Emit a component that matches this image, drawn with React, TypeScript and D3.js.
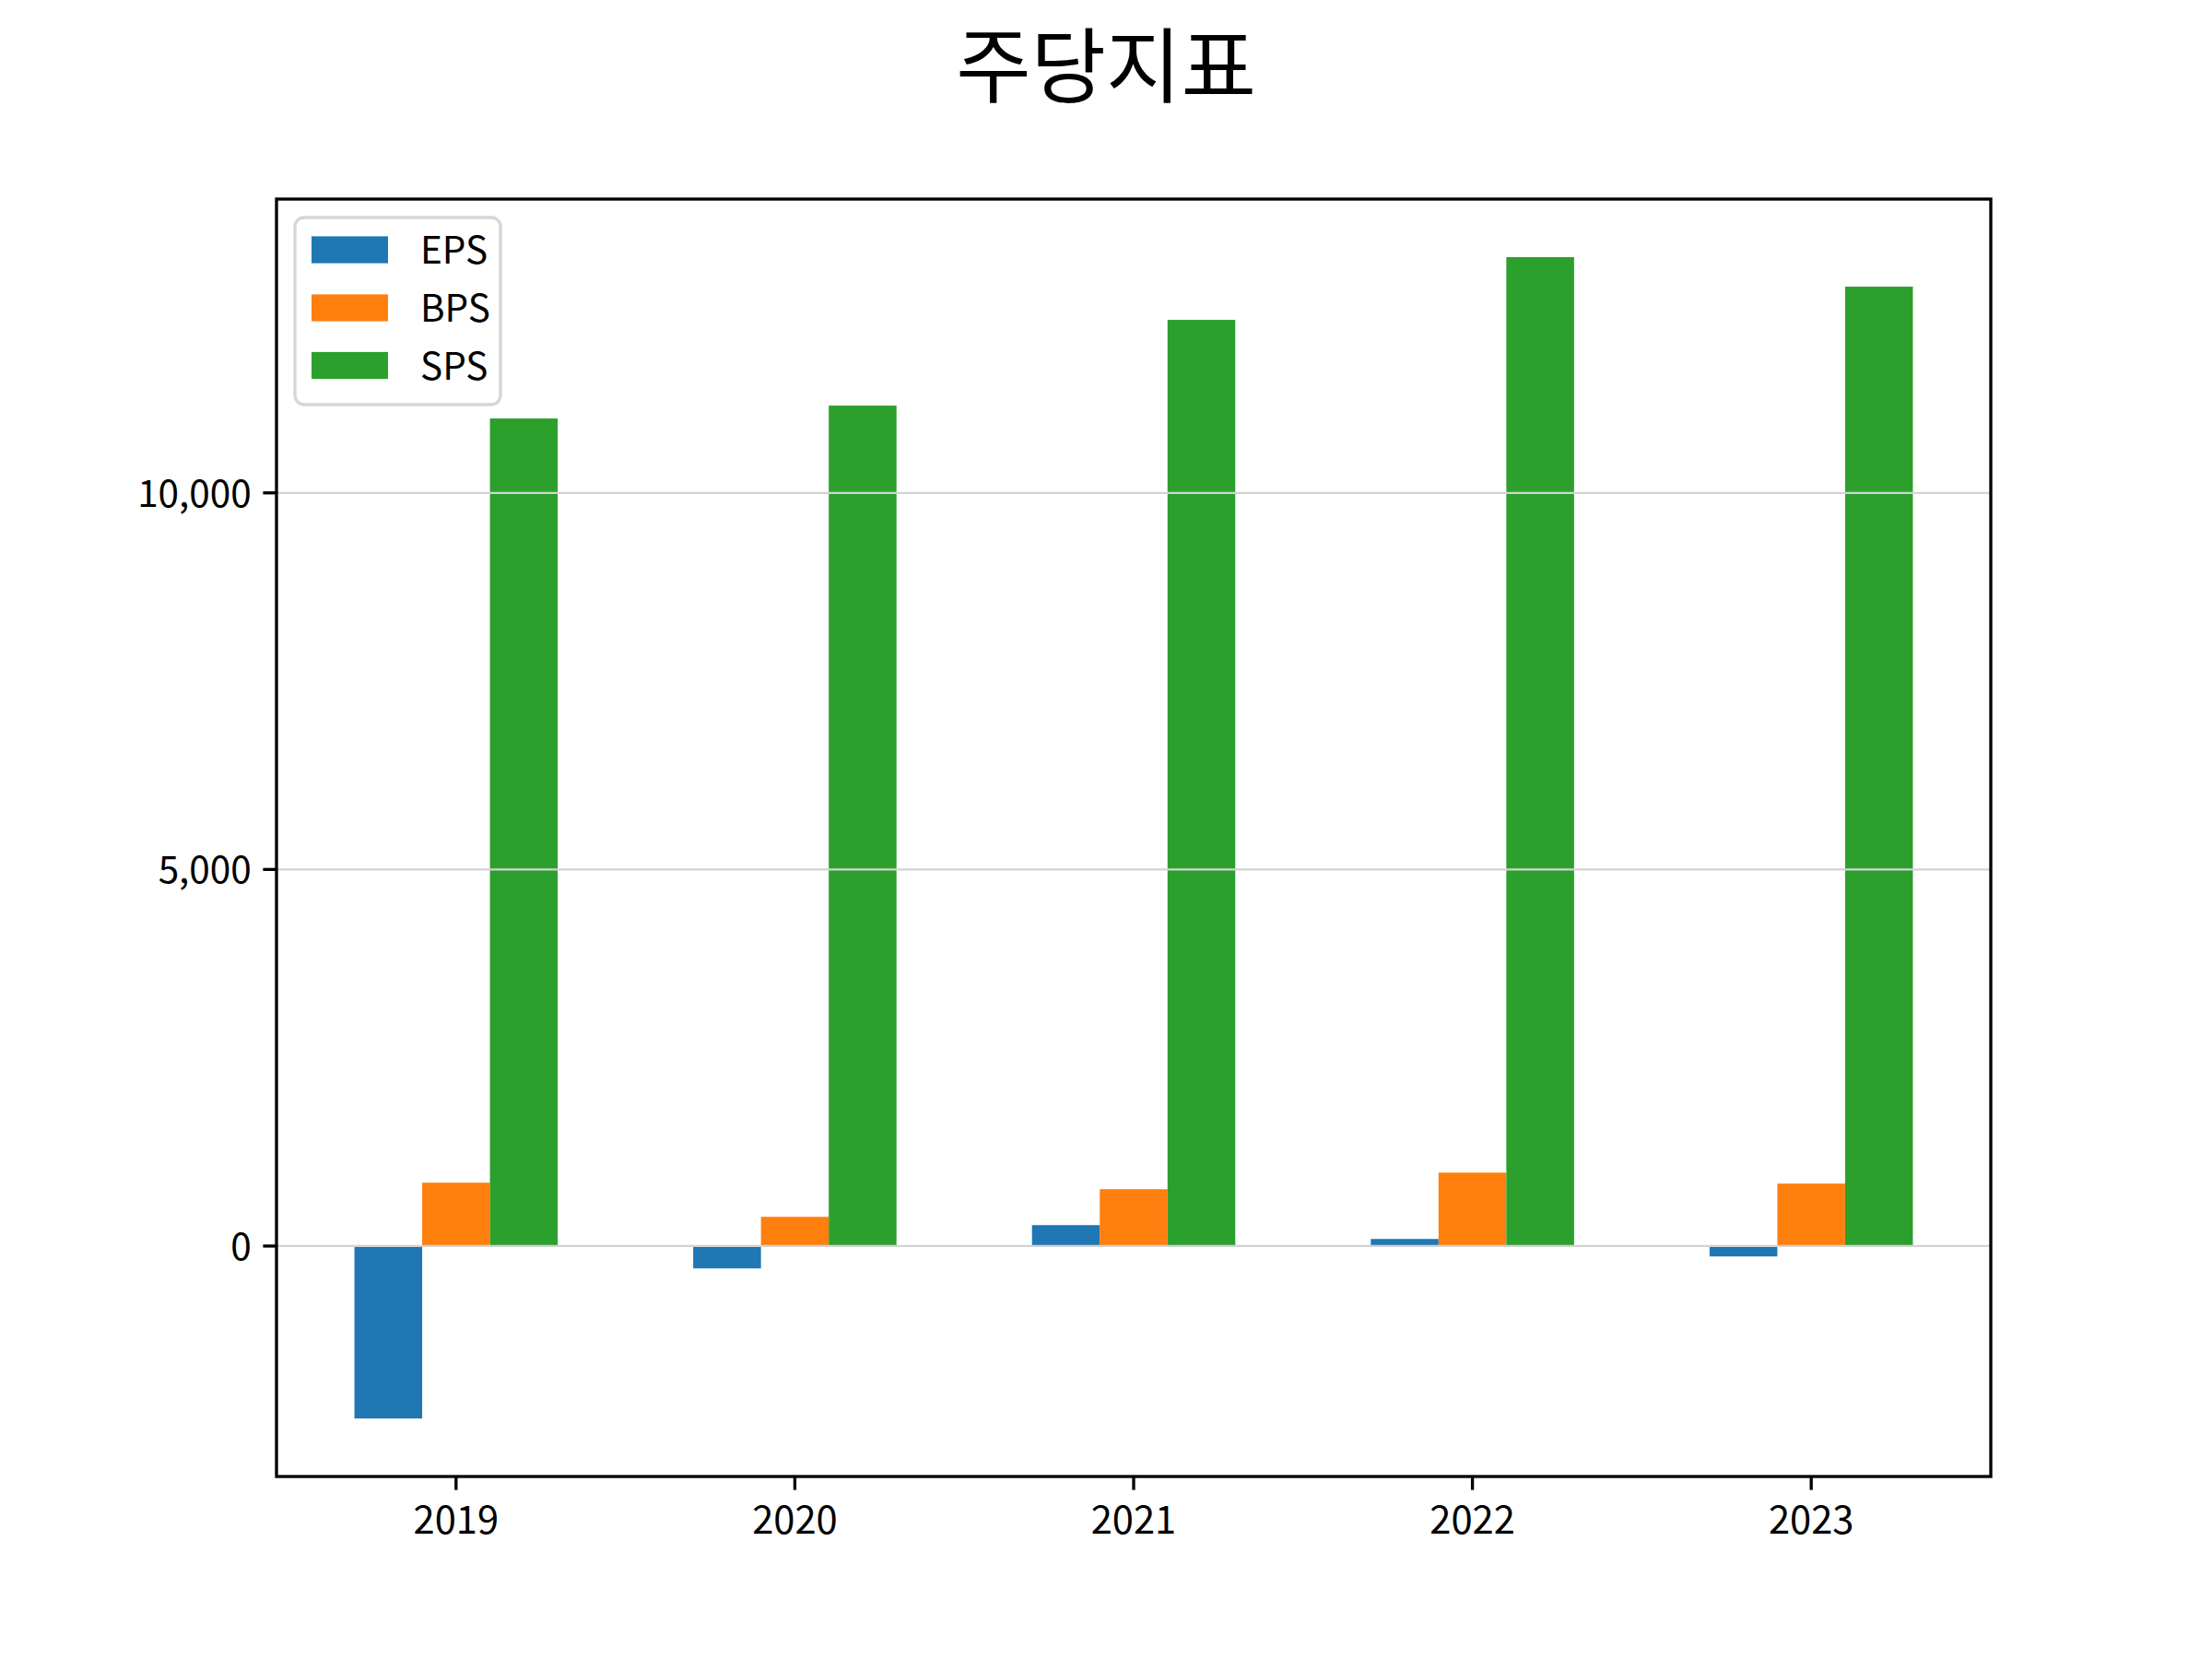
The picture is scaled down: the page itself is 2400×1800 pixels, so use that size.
import React from 'react';
import * as d3 from 'd3';

const years = ['2019', '2020', '2021', '2022', '2023'];
const seriesNames = ['EPS', 'BPS', 'SPS'];
const epsValues = [-2289, -297, 278, 94, -138];
const bpsValues = [841, 388, 755, 975, 829];
const spsValues = [10988, 11159, 12297, 13130, 12738];
const seriesColors = ['#1f77b4', '#ff7f0e', '#2ca02c'];
const yTickValues = [0, 5000, 10000];
const chartTitle = '주당지표';

const W = 2400;
const H = 1800;
const left = 300;
const right = 2160;
const top = 216;
const bottom = 1602;
const FONT = '"Noto Sans CJK KR", "Noto Sans", sans-serif';
const tickFont = 41.67;
const lw = 3.33;
const tickLen = 14.6;
const pad = 14.6;

export default function App() {
  const series = [epsValues, bpsValues, spsValues];
  const barW = 0.2;
  const xMinData = -1 * barW - barW / 2;
  const xMaxData = years.length - 1 + barW + barW / 2;
  const xPad = (xMaxData - xMinData) * 0.05;
  const x = d3.scaleLinear().domain([xMinData - xPad, xMaxData + xPad]).range([left, right]);

  const all = series.flat();
  const yMinData = Math.min(0, d3.min(all) as number);
  const yMaxData = Math.max(0, d3.max(all) as number);
  const yPad = (yMaxData - yMinData) * 0.05;
  const y = d3.scaleLinear().domain([yMinData - yPad, yMaxData + yPad]).range([bottom, top]);

  const fmt = d3.format(',');

  const legendX = 320;
  const legendY = 236;
  const legendW = 223;
  const legendH = 203;
  const handleX = 338;
  const handleW = 83;
  const handleH = 29.2;
  const rowCenters = [271, 334, 396.5];

  return (
    <svg width={W} height={H} style={{ position: 'absolute', left: 0, top: 0, background: '#fff' }} fontFamily={FONT}>
      <rect x={0} y={0} width={W} height={H} fill="#fff" />
      <text x={W / 2} y={104} textAnchor="middle" fontSize={88.5} fill="#000">{chartTitle}</text>

      {series.map((vals, si) => (
        <g key={seriesNames[si]}>
          {vals.map((v, i) => {
            const cx = i + (si - 1) * barW;
            const x0 = x(cx - barW / 2);
            const x1 = x(cx + barW / 2);
            const y0 = y(Math.max(0, v));
            const y1 = y(Math.min(0, v));
            return <rect key={i} x={x0} y={y0} width={x1 - x0} height={y1 - y0} fill={seriesColors[si]} />;
          })}
        </g>
      ))}

      {yTickValues.map((t) => (
        <line key={'g' + t} x1={left} x2={right} y1={y(t)} y2={y(t)} stroke="#d3d3d3" strokeWidth={2.2} />
      ))}

      {yTickValues.map((t) => (
        <g key={'yt' + t}>
          <line x1={left - tickLen} x2={left} y1={y(t)} y2={y(t)} stroke="#000" strokeWidth={lw} />
          <text x={left - tickLen - pad + 2} y={y(t) + 15} textAnchor="end" fontSize={40.5} fill="#000">{fmt(t)}</text>
        </g>
      ))}

      {years.map((yr, i) => (
        <g key={'xt' + yr}>
          <line x1={x(i)} x2={x(i)} y1={bottom} y2={bottom + tickLen} stroke="#000" strokeWidth={lw} />
          <text x={x(i)} y={1664} textAnchor="middle" fontSize={tickFont} fill="#000">{yr}</text>
        </g>
      ))}

      <rect x={left} y={top} width={right - left} height={bottom - top} fill="none" stroke="#000" strokeWidth={lw} />

      <g>
        <rect x={legendX} y={legendY} width={legendW} height={legendH} rx={10} ry={10} fill="#fff" fillOpacity={0.8} stroke="#d6d6d6" strokeWidth={lw} />
        {seriesNames.map((n, i) => (
          <g key={'lg' + n}>
            <rect x={handleX} y={rowCenters[i] - handleH / 2} width={handleW} height={handleH} fill={seriesColors[i]} />
            <text x={456} y={rowCenters[i] + 15} fontSize={40.5} fill="#000">{n}</text>
          </g>
        ))}
      </g>
    </svg>
  );
}
